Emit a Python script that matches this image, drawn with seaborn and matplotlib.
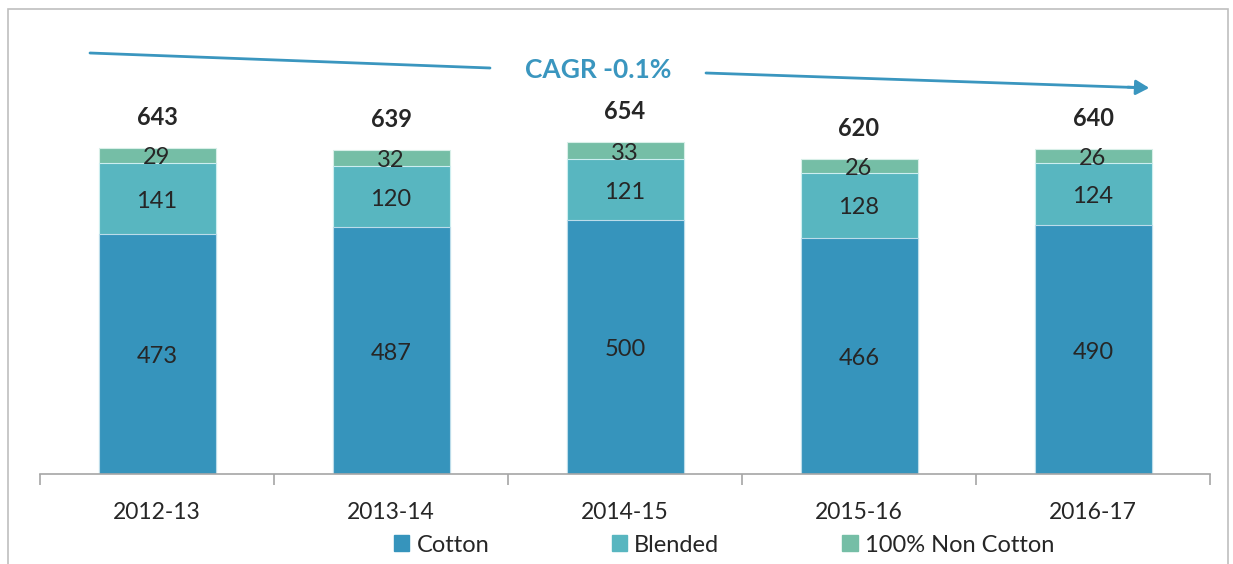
import matplotlib
matplotlib.use("Agg")
import matplotlib.pyplot as plt
import seaborn as sns
import pandas as pd
from matplotlib.patches import Rectangle
from matplotlib.lines import Line2D

years = ["2012-13", "2013-14", "2014-15", "2015-16", "2016-17"]
cotton = [473, 487, 500, 466, 490]
blended = [141, 120, 121, 128, 124]
non_cotton = [29, 32, 33, 26, 26]
totals = [643, 639, 654, 620, 640]
cagr_label = "CAGR -0.1%"

c_cotton = "#3694bc"
c_blend = "#58b6c0"
c_non = "#75bea6"
arrow_col = "#3a96bf"

sns.set_style("white")
plt.rcParams["font.family"] = ["Lato", "DejaVu Sans"]

df = pd.DataFrame({"year": years, "cotton": cotton, "blended": blended, "non": non_cotton})
df["cb"] = df["cotton"] + df["blended"]
df["all"] = df["cb"] + df["non"]

fig = plt.figure(figsize=(12.33, 5.64), dpi=100)
ax = fig.add_axes([40 / 1233, 90 / 564, 1170 / 1233, 454 / 564])

# stacked by layering cumulative heights
sns.barplot(data=df, x="year", y="all", color=c_non, width=0.5, ax=ax,
            edgecolor="#d8efe8", linewidth=0.8, saturation=1)
sns.barplot(data=df, x="year", y="cb", color=c_blend, width=0.5, ax=ax,
            edgecolor="#cdeef0", linewidth=0.8, saturation=1)
sns.barplot(data=df, x="year", y="cotton", color=c_cotton, width=0.5, ax=ax,
            edgecolor="#bcdcea", linewidth=0.8, saturation=1)

ax.set_xlim(-0.5, len(years) - 0.5)
ax.set_ylim(0, 895)
ax.set_xlabel("")
ax.set_ylabel("")
ax.set_yticks([])
for s in ["top", "right", "left"]:
    ax.spines[s].set_visible(False)
ax.spines["bottom"].set_color("#a6a6a6")
ax.spines["bottom"].set_linewidth(1.2)
ax.set_xticks(range(len(years)))
ax.set_xticklabels(years, fontsize=16.5, color="#262626")
ax.set_xticks([i - 0.5 for i in range(len(years) + 1)], minor=True)
ax.tick_params(axis="x", which="major", length=0, pad=20, bottom=True)
ax.tick_params(axis="x", which="minor", length=8, color="#a6a6a6", width=1.2, bottom=True)

txt = dict(ha="center", va="center", fontsize=17, color="#262626",
           textcoords="offset points", xytext=(0, -2))
for i in range(len(years)):
    ax.annotate(str(cotton[i]), (i, cotton[i] / 2), **txt)
    ax.annotate(str(blended[i]), (i, cotton[i] + blended[i] / 2), **txt)
    ax.annotate(str(non_cotton[i]), (i, cotton[i] + blended[i] + non_cotton[i] / 2), **txt)
    ax.annotate(str(totals[i]), (i, totals[i]), xytext=(0, 22), textcoords="offset points",
                ha="center", va="center", fontsize=17, fontweight="bold", color="#262626")

# CAGR arrow (figure pixel coords)
W, H = 1233, 564
fig.add_artist(Line2D([90 / W, 490 / W], [1 - 53 / H, 1 - 68 / H], color=arrow_col, lw=2))
fig.add_artist(Line2D([706 / W, 1135 / W], [1 - 73 / H, 1 - 87.5 / H], color=arrow_col, lw=2))
ax.annotate("", xy=(1152 / W, 1 - 88 / H), xytext=(1125 / W, 1 - 87 / H),
            xycoords="figure fraction", textcoords="figure fraction",
            arrowprops=dict(arrowstyle="-|>,head_length=0.8,head_width=0.45", color=arrow_col, lw=2))
fig.text(598 / W, 1 - 70 / H, cagr_label, ha="center", va="center", fontsize=19,
         fontweight="bold", color=arrow_col)

# legend
handles = [Rectangle((0, 0), 1, 1, color=c) for c in (c_cotton, c_blend, c_non)]
fig.legend(handles, ["Cotton", "Blended", "100% Non Cotton"], loc="center",
           bbox_to_anchor=(724 / W, 1 - 545 / H), ncol=3, frameon=False, fontsize=17,
           handlelength=0.65, handleheight=0.65, handletextpad=0.3, columnspacing=5.2,
           labelcolor="#262626")

# chart frame
fig.add_artist(Rectangle((8 / W, -0.05), 1220 / W, 1.05 - 9 / H, transform=fig.transFigure,
                         fill=False, edgecolor="#bfbfbf", lw=1.2))

fig.savefig("out.png", dpi=100)
